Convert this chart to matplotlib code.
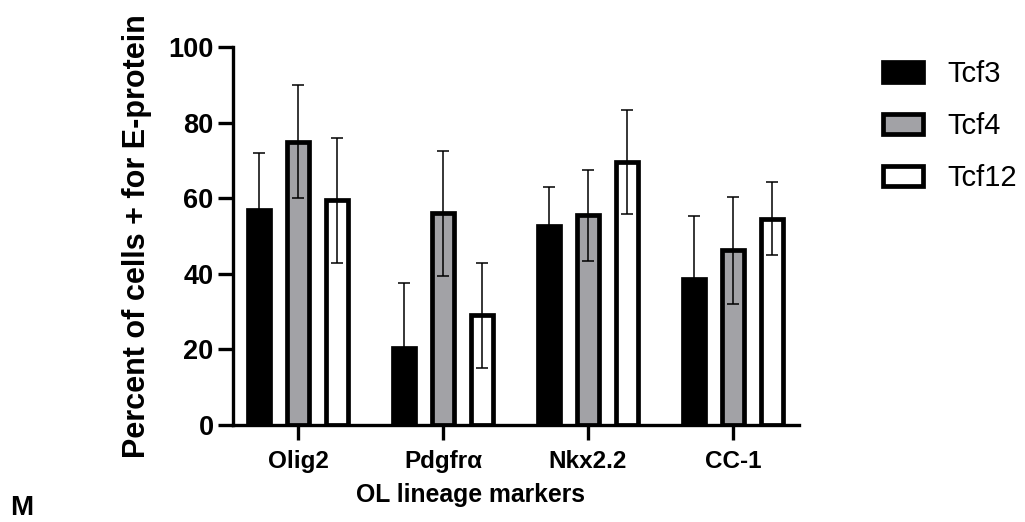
import matplotlib

matplotlib.use("Agg")
import matplotlib.pyplot as plt
import numpy as np

plt.rcParams["font.family"] = ["Liberation Sans", "DejaVu Sans"]

markers = ["Olig2", "Pdgfrα", "Nkx2.2", "CC-1"]
series = ["Tcf3", "Tcf4", "Tcf12"]
tcf3_mean = [56.8, 20.3, 52.6, 38.5]
tcf3_sd = [15.2, 17.3, 10.4, 16.9]
tcf4_mean = [75.0, 56.0, 55.5, 46.2]
tcf4_sd = [15.0, 16.6, 12.0, 14.2]
tcf12_mean = [59.4, 29.0, 69.6, 54.6]
tcf12_sd = [16.6, 13.8, 13.8, 9.6]

means = [tcf3_mean, tcf4_mean, tcf12_mean]
sds = [tcf3_sd, tcf4_sd, tcf12_sd]
fills = ["black", "#a2a2a6", "white"]
offsets = [-0.27, 0.0, 0.27]

fig = plt.figure(figsize=(10.25, 5.22), dpi=100)
ax = fig.add_axes([233 / 1025, 1 - 425 / 522, 566 / 1025, 378 / 522])

x = np.arange(len(markers))
for name, m, s, fc, off in zip(series, means, sds, fills, offsets):
    ax.bar(x + off, m, width=0.15, color=fc, edgecolor="black",
           linewidth=3.4, label=name, zorder=2)
    ax.errorbar(x + off, m, yerr=s, fmt="none", ecolor="black",
                elinewidth=1.1, capsize=4, capthick=1.1, zorder=3)

ax.set_xlim(-0.448, 3.455)
ax.set_ylim(0, 100)
ax.set_yticks([0, 20, 40, 60, 80, 100])
ax.set_xticks(x)
ax.set_xticklabels(markers)

for side in ("top", "right"):
    ax.spines[side].set_visible(False)
for side in ("left", "bottom"):
    ax.spines[side].set_linewidth(2.4)
ax.tick_params(axis="both", width=2.4, length=11)
ax.tick_params(axis="y", pad=3, labelsize=19.5)
ax.tick_params(axis="x", pad=7, labelsize=17.5)
for lab in ax.get_xticklabels() + ax.get_yticklabels():
    lab.set_fontweight("bold")

ax.set_ylabel("Percent of cells + for E-protein", fontsize=22, fontweight="bold")
ax.yaxis.set_label_coords(-0.143, 0.5)
ax.set_xlabel("OL lineage markers", fontsize=17.8, fontweight="bold")
ax.xaxis.set_label_coords(0.419, -0.153)

ax.legend(loc="upper left", bbox_to_anchor=(883 / 1025, 1 - 60 / 522),
          bbox_transform=fig.transFigure, frameon=False, fontsize=21,
          handlelength=1.37, handleheight=0.68, handletextpad=0.82,
          labelspacing=0.83, borderpad=0, borderaxespad=0)

fig.text(10 / 1025, 14 / 522, "M", fontsize=20, fontweight="bold", va="center")

fig.savefig("out.png", dpi=100)
